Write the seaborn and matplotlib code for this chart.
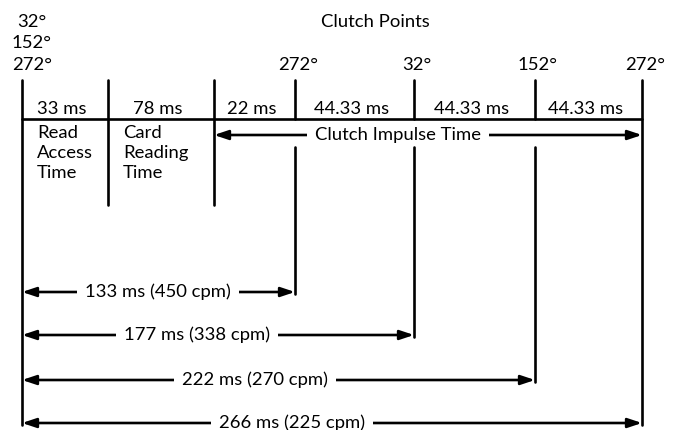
import numpy as np
import pandas as pd
import matplotlib
matplotlib.use("Agg")
import matplotlib.pyplot as plt
import seaborn as sns

# timing data
seg_ms = [33, 78, 22, 44.33, 44.33, 44.33]
phase_names = ["Read\nAccess\nTime", "Card\nReading\nTime"]
start_deg = [32, 152, 272]
clutch_deg = [272, 32, 152, 272]
cycle_ms = [133, 177, 222, 266]
cycle_cpm = [450, 338, 270, 225]

# schematic layout (diagram is not drawn to scale)
seg_width = [86, 106, 81, 119, 121, 107]
cycle_rows = [292, 335, 380, 423]
cycle_text_x = [158, 197, 255, 292]
x0, y_top, y_axis, y_impulse, y_phase_end, y_low = 22, 80, 119, 135, 205, 147

sns.set_theme(style="white")
plt.rcParams['font.family'] = ['Lato', 'DejaVu Sans']
plt.rcParams['text.color'] = 'black'
FS = 13.3
LW = 1.9

bounds = x0 + np.concatenate([[0], np.cumsum(seg_width)])
clutch_x = bounds[3:]

fig = plt.figure(figsize=(6.75, 4.3), dpi=100)
ax = fig.add_axes([0, 0, 1, 1])
ax.set_xlim(0, 675)
ax.set_ylim(430, 0)
ax.axis('off')

# line pieces as a long table
rows = []
def piece(name, xa, ya, xb, yb):
    rows.append((name, 0, xa, ya))
    rows.append((name, 1, xb, yb))

piece("axis", bounds[0], y_axis, bounds[-1], y_axis)
piece("start", bounds[0], y_top, bounds[0], cycle_rows[-1] + 2)
for i in (1, 2):
    piece(f"phase{i}", bounds[i], y_top, bounds[i], y_phase_end)
for i, cx in enumerate(clutch_x[:-1]):
    piece(f"ctop{i}", cx, y_top, cx, y_axis)
    piece(f"clow{i}", cx, y_low, cx, cycle_rows[i] + 2)
piece("last", clutch_x[-1], y_top, clutch_x[-1], cycle_rows[-1] + 2)

lines = pd.DataFrame(rows, columns=["seg", "k", "x", "y"])
sns.lineplot(data=lines, x="x", y="y", units="seg", estimator=None, sort=False,
             color="black", linewidth=LW, legend=False, ax=ax, zorder=6)

arrow_kw = dict(arrowstyle='-|>,head_length=0.6,head_width=0.2', color='black',
                lw=LW, mutation_scale=14, shrinkA=0, shrinkB=0)

def dim_arrow(xl, xr, y, xc, text):
    ax.annotate('', xy=(xl, y), xytext=(xc, y), arrowprops=arrow_kw)
    ax.annotate('', xy=(xr, y), xytext=(xc, y), arrowprops=arrow_kw)
    ax.text(xc, y, text, ha='center', va='center', fontsize=FS, zorder=5,
            bbox=dict(fc='white', ec='none', pad=5.5))

# labels at top
ax.text(375, 22, "Clutch Points", ha='center', va='center', fontsize=FS)
for j, d in enumerate(start_deg):
    ax.text(32, 22 + j * 21.5, f"{d}°", ha='center', va='center', fontsize=FS)
for cx, d in zip(clutch_x, clutch_deg):
    ax.text(cx + 3, 65, f"{d}°", ha='center', va='center', fontsize=FS)

# segment durations
for i, v in enumerate(seg_ms):
    mid = (bounds[i] + bounds[i + 1]) / 2
    ax.text(mid - 3, 109, f"{v:g} ms", ha='center', va='center', fontsize=FS)

for i, name in enumerate(phase_names):
    ax.text(bounds[i] + 15, 125, name, ha='left', va='top', fontsize=FS,
            linespacing=1.3)

dim_arrow(bounds[3 - 1], clutch_x[-1], y_impulse, 398, "Clutch Impulse Time")

for i, (ms, cpm) in enumerate(zip(cycle_ms, cycle_cpm)):
    dim_arrow(bounds[0], clutch_x[i], cycle_rows[i], cycle_text_x[i],
              f"{ms} ms ({cpm} cpm)")

fig.savefig("out.png", dpi=100)
